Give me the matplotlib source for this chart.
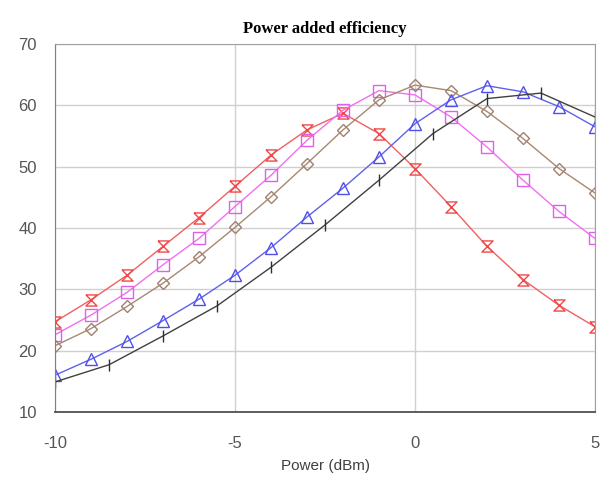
import matplotlib
matplotlib.use("Agg")
import matplotlib.pyplot as plt
import numpy as np

plt.rcParams['axes.unicode_minus'] = False

# input drive (dBm) and PAE (%) for each sweep
power_1db = [-10, -9, -8, -7, -6, -5, -4, -3, -2, -1, 0, 1, 2, 3, 4, 5]
pae_hourglass = [24.7, 28.3, 32.3, 37.0, 41.7, 46.8, 51.9, 56.0, 58.7, 55.4,
                 49.7, 43.5, 37.0, 31.6, 27.4, 23.9]
pae_square = [22.6, 25.8, 29.5, 34.0, 38.3, 43.5, 48.6, 54.3, 59.2, 62.4,
              61.7, 58.1, 53.2, 47.8, 42.7, 38.3]
pae_diamond = [20.8, 23.6, 27.2, 31.0, 35.3, 40.1, 45.1, 50.5, 56.0, 60.9,
               63.3, 62.4, 59.0, 54.6, 49.7, 45.7]
pae_triangle = [16.0, 18.6, 21.5, 24.9, 28.4, 32.3, 36.8, 41.8, 46.5, 51.6,
                57.0, 60.9, 63.2, 62.2, 59.8, 56.5]

power_15db = [-10, -8.5, -7, -5.5, -4, -2.5, -1, 0.5, 2, 3.5, 5]
pae_tick = [14.9, 17.7, 22.4, 27.3, 33.6, 40.5, 47.8, 55.4, 61.1, 62.0, 58.1]

xticks = [-10, -5, 0, 5]
yticks = [10, 20, 30, 40, 50, 60, 70]

# open hourglass marker
hourglass = [(-1, 1), (1, 1), (-1, -1), (1, -1), (-1, 1)]

fig = plt.figure(figsize=(6.12, 4.8), dpi=100)
ax = fig.add_axes([0.0899, 0.1417, 0.8823, 0.7666])

ax.plot(power_1db, pae_hourglass, '-', color='#f06060', lw=1.0,
        marker=hourglass, ms=8, mfc='none', mec='#f04848', mew=1.0)
ax.plot(power_1db, pae_square, '-', color='#f070f0', lw=1.0,
        marker='s', ms=9, mfc='none', mec='#e060e8', mew=1.0)
ax.plot(power_1db, pae_diamond, '-', color='#a88870', lw=1.0,
        marker='D', ms=6, mfc='none', mec='#a08070', mew=1.0)
ax.plot(power_1db, pae_triangle, '-', color='#6060f0', lw=1.0,
        marker='^', ms=9, mfc='none', mec='#5050e8', mew=1.0)
ax.plot(power_15db, pae_tick, '-', color='#404040', lw=1.0,
        marker='|', ms=9, mec='#303030', mew=1.0)

ax.set_xlim(-10, 5)
ax.set_ylim(10, 70)
ax.set_xticks(xticks)
ax.set_yticks(yticks)
ax.grid(True, color='#d0d0d0', lw=1.0)
ax.set_axisbelow(True)
ax.tick_params(length=0, labelsize=12, colors='#555555',
               labelfontfamily='Liberation Sans')
ax.tick_params(axis='x', pad=17)
ax.tick_params(axis='y', pad=13)
for side in ['top', 'right']:
    ax.spines[side].set_color('#a0a0a0')
ax.spines['left'].set_color('#808080')
ax.spines['bottom'].set_color('#505050')
ax.spines['bottom'].set_linewidth(1.3)

ax.set_xlabel('Power (dBm)', fontsize=11, family='Liberation Sans',
              color='#404040', labelpad=6)
ax.set_title('Power added efficiency', fontsize=12, fontweight='bold',
             family='Liberation Serif', pad=8)

fig.savefig('out.png', dpi=100)
